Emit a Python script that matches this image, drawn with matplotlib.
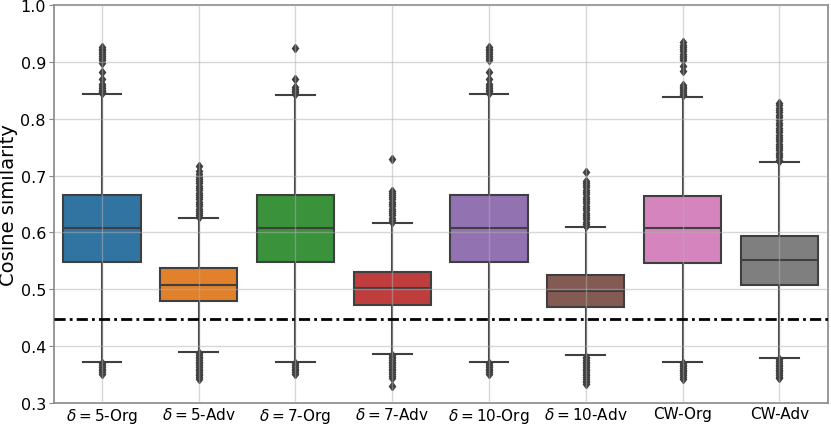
import matplotlib
matplotlib.use("Agg")
import matplotlib.pyplot as plt

labels = [r"$\delta=5$-Org", r"$\delta=5$-Adv", r"$\delta=7$-Org", r"$\delta=7$-Adv",
          r"$\delta=10$-Org", r"$\delta=10$-Adv", "CW-Org", "CW-Adv"]
colors = ["#3274a1", "#e1812c", "#3a923a", "#c03d3e", "#9372b2", "#845b53", "#d684bd", "#7f7f7f"]

# box statistics
q1 = [0.548, 0.479, 0.548, 0.473, 0.548, 0.469, 0.547, 0.508]
med = [0.608, 0.508, 0.608, 0.502, 0.608, 0.497, 0.607, 0.552]
q3 = [0.666, 0.537, 0.665, 0.530, 0.666, 0.525, 0.664, 0.593]
whis_lo = [0.372, 0.390, 0.372, 0.387, 0.372, 0.384, 0.373, 0.379]
whis_hi = [0.843, 0.626, 0.842, 0.617, 0.843, 0.610, 0.838, 0.723]

fliers_hi = [
    [0.926, 0.923, 0.920, 0.917, 0.913, 0.910, 0.906, 0.902, 0.898, 0.881, 0.869,
     0.860, 0.857, 0.854, 0.851, 0.849, 0.847, 0.845],
    [0.716, 0.708, 0.702, 0.698, 0.694, 0.690, 0.686, 0.682, 0.678, 0.674, 0.670,
     0.666, 0.662, 0.658, 0.654, 0.650, 0.646, 0.642, 0.638, 0.634, 0.630, 0.628],
    [0.924, 0.869, 0.855, 0.852, 0.849, 0.846, 0.844],
    [0.729, 0.672, 0.669, 0.666, 0.662, 0.658, 0.654, 0.650, 0.646, 0.642, 0.638,
     0.634, 0.630, 0.626, 0.622, 0.619],
    [0.926, 0.923, 0.920, 0.917, 0.913, 0.910, 0.906, 0.902, 0.882, 0.869,
     0.860, 0.857, 0.854, 0.851, 0.848, 0.845],
    [0.707, 0.691, 0.687, 0.683, 0.679, 0.675, 0.671, 0.667, 0.663, 0.659, 0.655,
     0.651, 0.647, 0.643, 0.639, 0.635, 0.631, 0.627, 0.623, 0.619, 0.615, 0.612],
    [0.934, 0.930, 0.926, 0.922, 0.918, 0.914, 0.910, 0.906, 0.902, 0.893, 0.884,
     0.859, 0.856, 0.853, 0.850, 0.847, 0.844, 0.841],
    [0.827, 0.823, 0.819, 0.815, 0.811, 0.806, 0.802, 0.797, 0.792, 0.788, 0.784,
     0.780, 0.776, 0.772, 0.768, 0.764, 0.760, 0.756, 0.752, 0.748, 0.744, 0.740,
     0.736, 0.732, 0.728, 0.725],
]
fliers_lo = [
    [0.370, 0.367, 0.364, 0.361, 0.358, 0.355, 0.352],
    [0.388, 0.385, 0.382, 0.379, 0.376, 0.373, 0.370, 0.367, 0.364, 0.361, 0.358,
     0.355, 0.352, 0.349, 0.346, 0.343],
    [0.370, 0.367, 0.364, 0.361, 0.358, 0.355, 0.352],
    [0.385, 0.382, 0.379, 0.376, 0.373, 0.370, 0.367, 0.364, 0.361, 0.358, 0.355,
     0.352, 0.348, 0.345, 0.331],
    [0.370, 0.367, 0.364, 0.361, 0.358, 0.355, 0.351],
    [0.382, 0.379, 0.376, 0.373, 0.370, 0.367, 0.364, 0.361, 0.358, 0.355, 0.352,
     0.349, 0.346, 0.343, 0.340, 0.337, 0.333],
    [0.371, 0.368, 0.365, 0.362, 0.359, 0.356, 0.353, 0.350, 0.347, 0.343],
    [0.377, 0.374, 0.371, 0.368, 0.365, 0.362, 0.359, 0.356, 0.353, 0.350, 0.347, 0.344],
]
threshold = 0.4475

stats = []
for i in range(len(labels)):
    stats.append({"label": labels[i], "q1": q1[i], "med": med[i], "q3": q3[i],
                  "whislo": whis_lo[i], "whishi": whis_hi[i],
                  "fliers": fliers_hi[i] + fliers_lo[i]})

gray = "#3f3f3f"
fig = plt.figure(figsize=(8.31, 4.27), dpi=100)
ax = fig.add_axes([0.0644, 0.0532, 0.9316, 0.9335])

bp = ax.bxp(stats, positions=range(len(labels)), widths=0.8, patch_artist=True,
            boxprops=dict(edgecolor=gray, linewidth=1.5),
            medianprops=dict(color=gray, linewidth=1.5),
            whiskerprops=dict(color=gray, linewidth=1.5),
            capprops=dict(color=gray, linewidth=1.5),
            flierprops=dict(marker="d", markerfacecolor=gray, markeredgecolor=gray,
                            markersize=4.5, linestyle="none"),
            capwidths=0.4)
for patch, c in zip(bp["boxes"], colors):
    patch.set_facecolor(c)

ax.axhline(threshold, color="black", linewidth=2, linestyle=(0, (4, 1.5, 1, 1.5)), zorder=3)

ax.set_xlim(-0.5, 7.5)
ax.set_ylim(0.3, 1.0)
ax.set_yticks([0.3, 0.4, 0.5, 0.6, 0.7, 0.8, 0.9, 1.0])
ax.set_yticklabels(["0.3", "0.4", "0.5", "0.6", "0.7", "0.8", "0.9", "1.0"])
ax.set_xticks(range(len(labels)))
ax.set_xticklabels(labels)
ax.tick_params(axis="y", labelsize=11.5, length=3.5, color="#888888", pad=2)
ax.tick_params(axis="x", labelsize=11, length=0, pad=2)
ax.set_ylabel("Cosine similarity", fontsize=14, labelpad=2)
ax.set_axisbelow(False)
ax.grid(True, color="#b0b0b0", alpha=0.5, linewidth=1)
for s in ax.spines.values():
    s.set_color("#888888")
    s.set_linewidth(1.2)

fig.savefig("out.png", dpi=100)
